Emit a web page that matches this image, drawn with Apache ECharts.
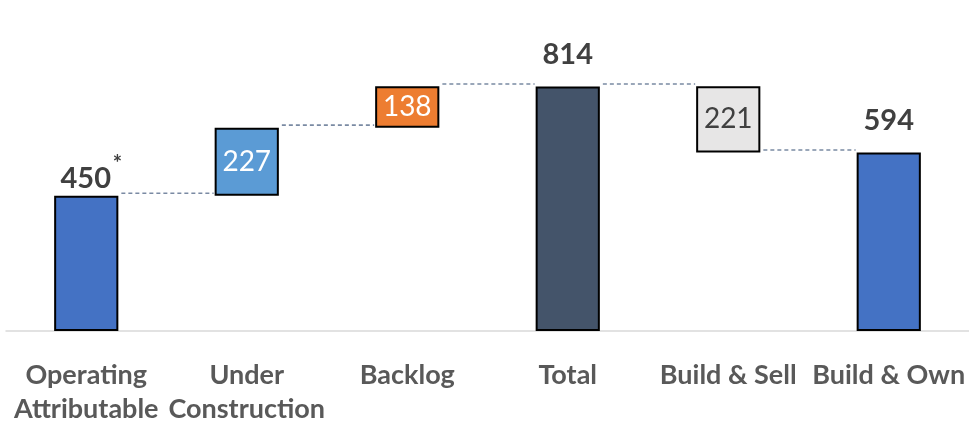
<!DOCTYPE html>
<html>
<head>
<meta charset="utf-8">
<script src="https://cdn.jsdelivr.net/npm/echarts@6/dist/echarts.min.js"></script>
<style>
html,body{margin:0;padding:0;background:#fff;}
#chart{width:969px;height:426px;}
</style>
</head>
<body>
<div id="chart"></div>
<script>
// Data
const categories = ['Operating\nAttributable', 'Under\nConstruction', 'Backlog', 'Total', 'Build & Sell', 'Build & Own'];
const values = [450, 227, 138, 814, 221, 594];
const bases = [0, 450, 677, 0, 594, 0];
const connectorLevels = [450, 677, 814, 814, 594];
const barColors = ['#4472C4', '#5B9BD5', '#ED7D31', '#44546A', '#E7E6E6', '#4472C4'];
const labelInside = [false, true, true, false, true, false];
const insideLabelColors = ['', '#FFFFFF', '#FFFFFF', '', '#404040', ''];
const footnoteMark = '*';

const FONT = 'Lato';
const chart = echarts.init(document.getElementById('chart'), null, {renderer: 'canvas'});

const valueData = values.map((v, i) => {
  const item = {value: v, itemStyle: {color: barColors[i]}};
  if (labelInside[i]) {
    item.label = {show: true, position: 'inside', color: insideLabelColors[i],
      fontFamily: FONT, fontSize: 28, fontWeight: 'normal'};
  } else if (i === 0) {
    item.label = {show: true, position: 'top', distance: 3,
      formatter: p => '{sp|}{a|' + p.value + '}{s|' + footnoteMark + '}',
      rich: {
        sp: {width: 10, height: 40},
        a: {fontFamily: FONT, fontSize: 29, fontWeight: 'bold', color: '#404040', lineHeight: 30, verticalAlign: 'bottom'},
        s: {fontFamily: FONT, fontSize: 22, fontWeight: 'bold', color: '#404040', width: 11, align: 'right', verticalAlign: 'top', lineHeight: 22}
      }};
  } else {
    item.label = {show: true, position: 'top', distance: 17, color: '#404040',
      fontFamily: FONT, fontSize: 29, fontWeight: 'bold'};
  }
  return item;
});

const option = {
  animation: false,
  grid: {left: 6, right: 0, top: 30.6, bottom: 92, containLabel: false},
  xAxis: {
    type: 'category',
    data: categories,
    axisLine: {show: true, lineStyle: {color: '#D9D9D9', width: 1.5}},
    axisTick: {show: false},
    axisLabel: {interval: 0, hideOverlap: false, color: '#595959', fontFamily: FONT,
      fontSize: 27, fontWeight: 'bold', lineHeight: 34, margin: 27}
  },
  yAxis: {type: 'value', min: 0, max: 1000, show: false, splitLine: {show: false}},
  series: [
    {
      type: 'bar', stack: 'wf', barWidth: '40%', silent: true,
      itemStyle: {color: 'transparent', borderWidth: 0},
      data: bases
    },
    {
      type: 'bar', stack: 'wf', barWidth: '40%',
      itemStyle: {borderColor: '#000000', borderWidth: 2},
      data: valueData
    },
    {
      type: 'custom',
      renderItem: function (params, api) {
        const i = api.value(0);
        const lvl = api.value(1);
        const p1 = api.coord([i, lvl]);
        const p2 = api.coord([i + 1, lvl]);
        const hw = api.size([1, 0])[0] * 0.4 / 2;
        return {
          type: 'line',
          shape: {x1: p1[0] + hw + 3, y1: p1[1] - 2.5, x2: p2[0] - hw - 1, y2: p2[1] - 2.5},
          style: {stroke: '#7A8AA3', lineWidth: 1.6, lineDash: [4, 3]}
        };
      },
      encode: {x: 0, y: 1},
      data: connectorLevels.map((lvl, i) => [i, lvl]),
      z: 1
    }
  ]
};
chart.setOption(option);
</script>
</body>
</html>
